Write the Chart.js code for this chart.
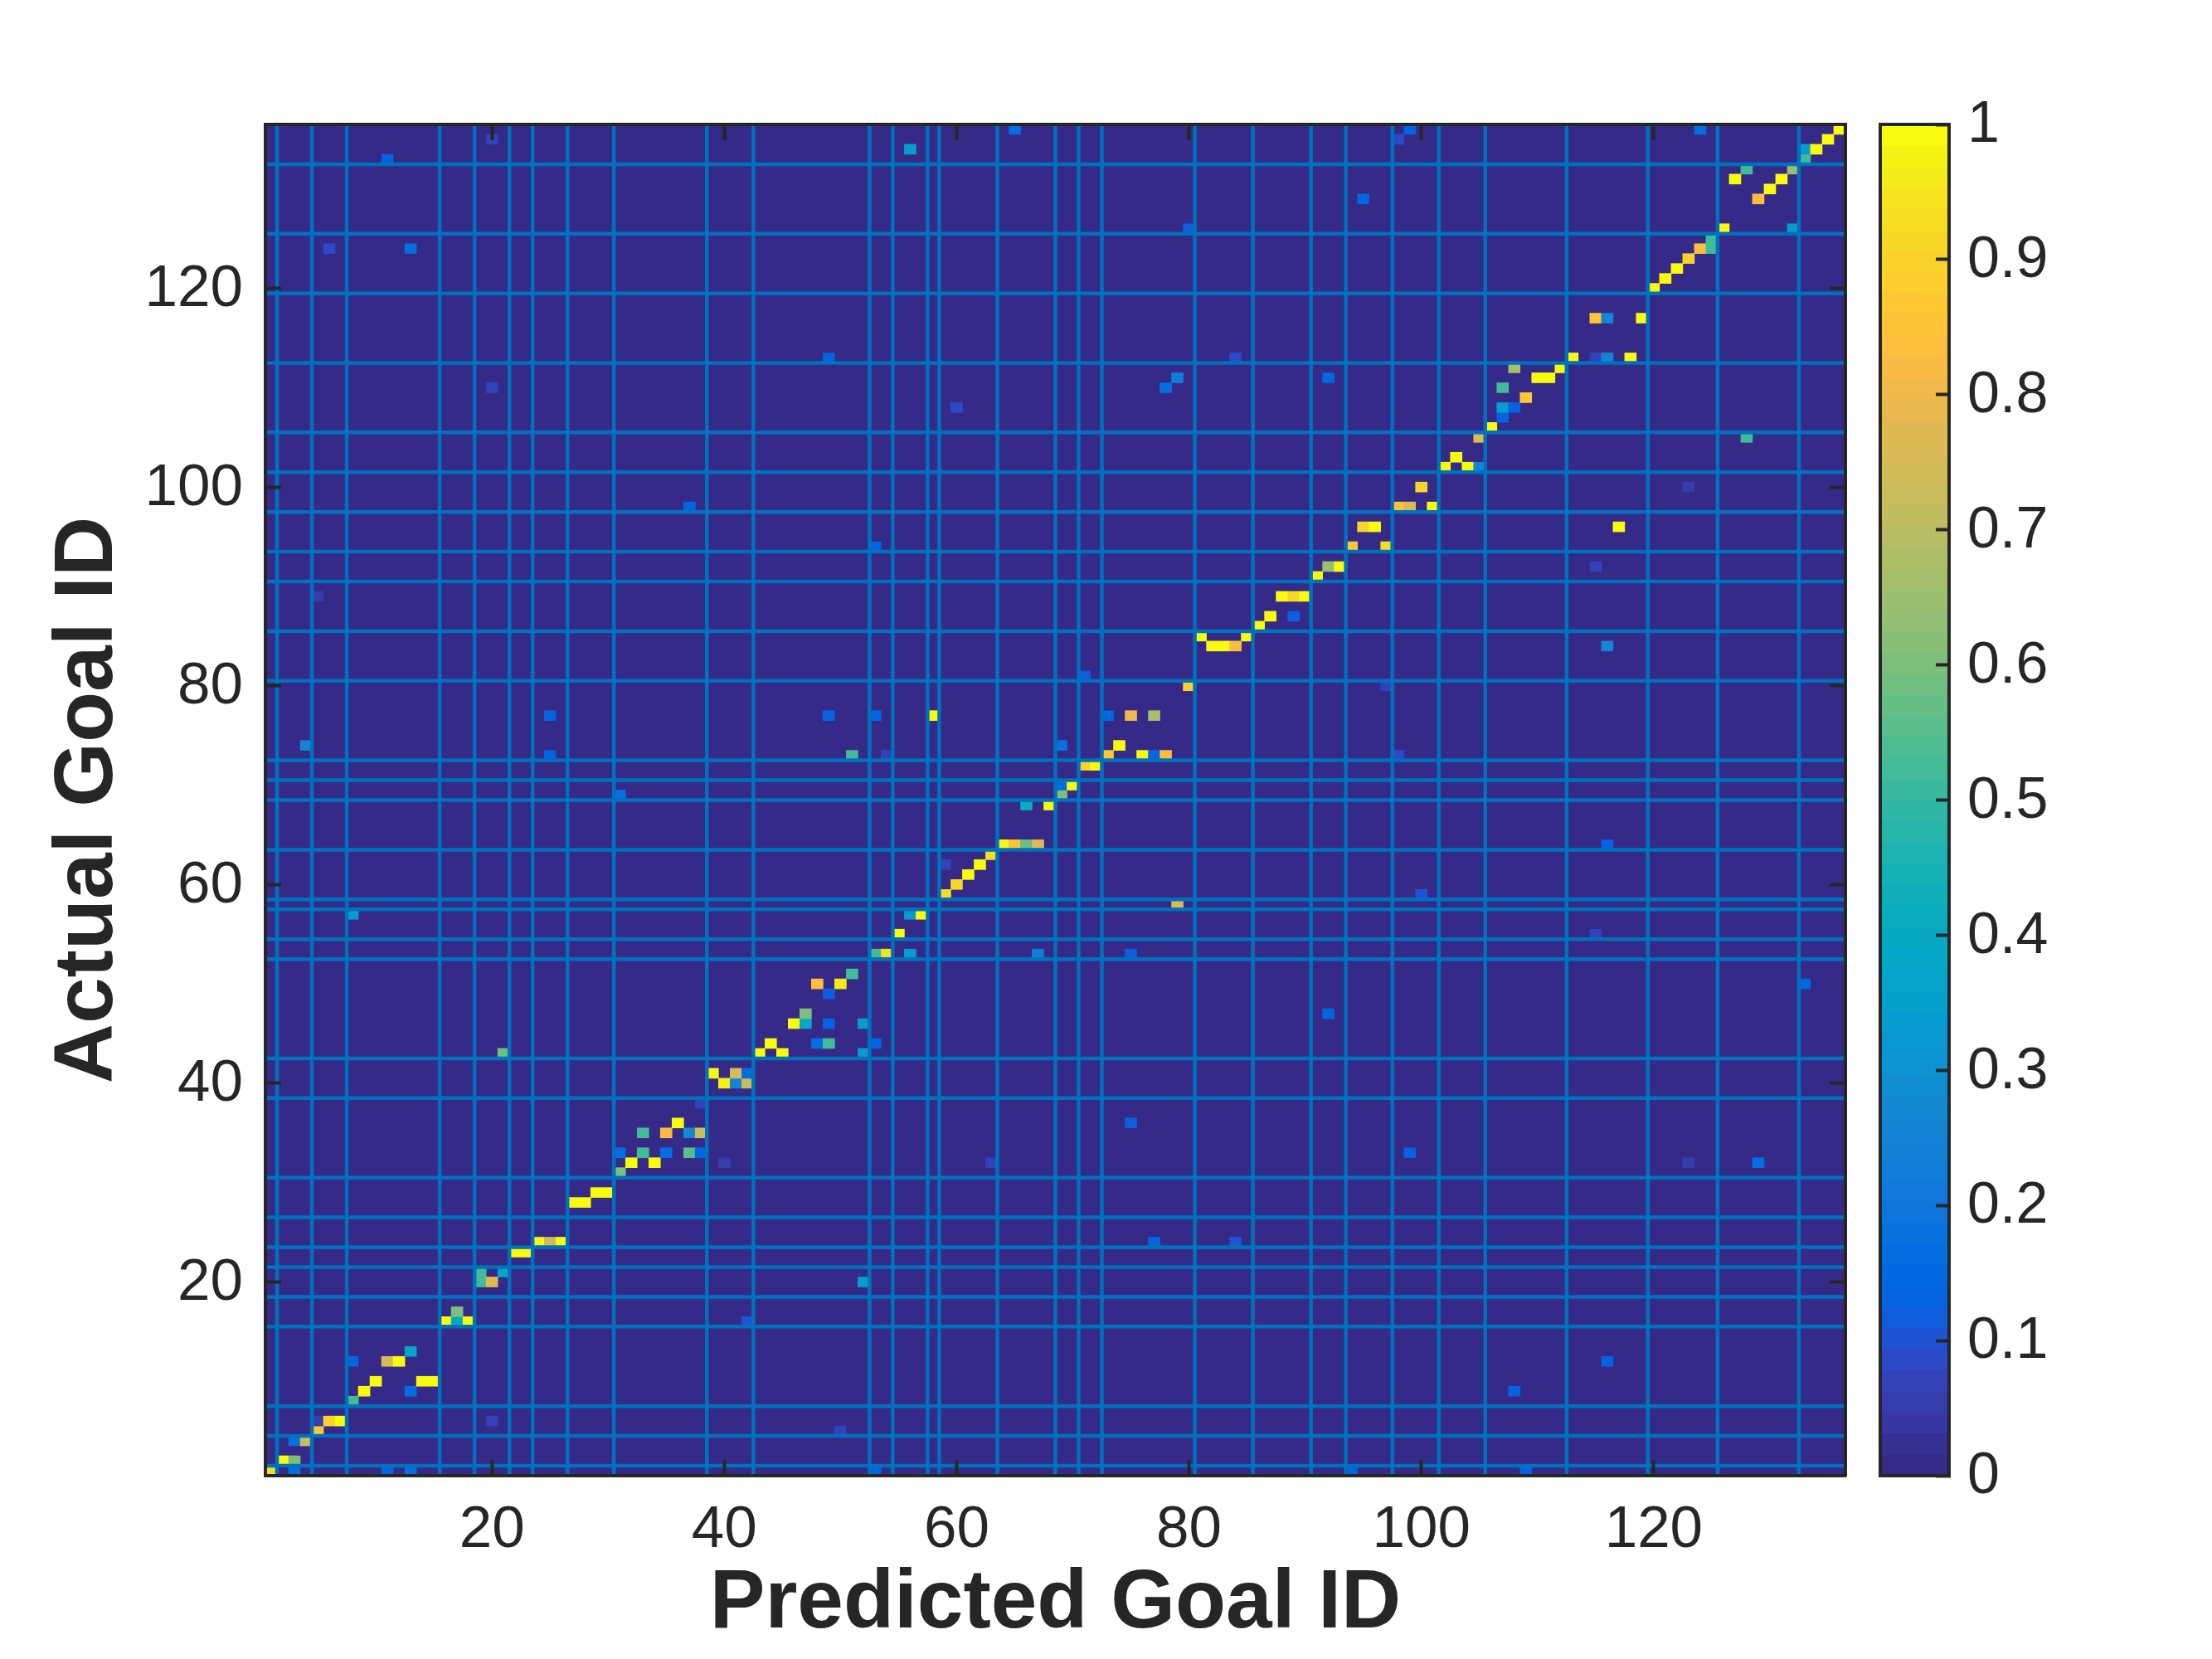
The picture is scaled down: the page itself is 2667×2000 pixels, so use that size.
<!DOCTYPE html>
<html>
<head>
<meta charset="utf-8">
<title>Predicted vs actual goal</title>
<script src="https://cdn.jsdelivr.net/npm/chart.js@4/dist/chart.umd.min.js"></script>
<style>
  html, body { margin: 0; background: #fff; }
  #wrap { position: relative; width: 2667px; height: 2000px; }
  #matrix { position: absolute; left: 0; top: 0; }
  #colorbar { position: absolute; left: 2240px; top: 0; }
</style>
</head>
<body>
<div id="wrap">
  <canvas id="matrix" width="2667" height="2000"></canvas>
  <canvas id="colorbar" width="427" height="2000"></canvas>
</div>
<script>
// goal ids where the blue separators sit (same for both axes)
const goalGroups = [1.5, 4.5, 7.5, 15.5, 18.5, 21.5, 23.5, 26.5, 30.5, 38.5, 42.5, 52.5, 54.5, 57.5, 58.5,
  63.5, 68.5, 70.5, 72.5, 80.5, 85.5, 90.5, 93.5, 97.5, 101.5, 105.5, 112.5, 119.5, 125.5, 132.5];
const goalTicks = [20, 40, 60, 80, 100, 120];
const colorTicks = [0, 0.1, 0.2, 0.3, 0.4, 0.5, 0.6, 0.7, 0.8, 0.9, 1];
const goalMin = 0.5;
const goalMax = 136.5;

// non-zero cells, one entry per actual goal
const actualGoals = [1, 2, 4, 5, 6, 8, 9, 10, 12, 13, 16, 17, 20, 21, 23, 24, 28, 29, 31, 32, 33, 35, 36, 38, 40, 41,
  43, 44, 46, 47, 49, 50, 51, 53, 55, 57, 58, 59, 60, 61, 62, 63, 64, 68, 69, 70, 72, 73, 74, 77, 80, 81, 84, 85,
  86, 87, 89, 91, 92, 94, 96, 98, 100, 102, 103, 105, 106, 107, 108, 109, 110, 111, 112, 113, 117, 120, 121, 122,
  123, 124, 125, 126, 129, 130, 131, 132, 133, 134, 135, 136];
const predictedGoals = [
  [1, 3, 11, 13, 53, 94, 109], [2, 3], [3, 4], [5, 50], [5, 6, 7, 20], [8], [9, 13, 108], [10, 14, 15],
  [8, 11, 12, 116], [13], [16, 17, 18, 42], [17], [19, 20, 52], [19, 21], [22, 23], [24, 25, 26, 77, 84],
  [27, 28], [29, 30], [31], [32, 34, 40, 63, 123, 129], [31, 33, 35, 37, 38, 99], [33, 35, 37, 38], [36, 75],
  [38], [40, 41, 42], [39, 41, 42], [21, 43, 45, 52], [44, 48, 49, 53], [46, 47, 49, 52], [47, 92], [49],
  [48, 50, 133], [51], [53, 54, 56, 67, 75], [55, 115], [8, 56, 57], [79], [59, 100], [60], [61], [59, 62], [63],
  [64, 65, 66, 67, 116], [66, 68], [31, 69], [69, 70], [71, 72], [25, 51, 54, 73, 76, 77, 78, 98], [4, 69, 74],
  [25, 49, 53, 58, 73, 75, 77], [80, 97], [71], [82, 83, 84, 116], [81, 85], [86], [87, 89], [5, 88, 89, 90],
  [91], [92, 93, 115], [53, 94, 97], [95, 96, 117], [37, 98, 99, 101], [100, 123], [102, 104, 105], [103],
  [105, 128], [106], [107], [60, 107, 108], [109], [20, 78, 107], [79, 92, 110, 111], [108, 112],
  [49, 84, 113, 115, 116, 118], [115, 116, 119], [120], [121], [122], [123], [6, 13, 124, 125], [125],
  [80, 126, 132], [95, 129], [130], [127, 131], [128, 132], [11, 133], [56, 133, 134], [20, 98, 135],
  [65, 99, 124, 136]];
const cellValues = [
  [.93, .17, .14, .17, .14, .14, .14], [1, .6], [.18, .72], [.87, .07], [.05, .9, 1, .07], [.52], [1, .17, .14], [1, 1, 1],
  [.14, .76, 1, .14], [.38], [1, .38, 1, .1], [.6], [.52, .78, .33], [.52, .38], [1, 1], [1, .74, 1, .14, .1],
  [1, 1], [1, 1], [.6], [1, 1, .06, .07, .06, .17], [.17, .52, .17, .55, .15, .13], [.52, .82, .27, .72], [1, .12],
  [.07], [.97, .25, .72], [1, .76, .17], [.58, 1, 1, .33], [1, .17, .52, .14], [1, .38, .14, .33], [.6, .14], [.12],
  [.83, .96, .15], [.52], [.52, .95, .33, .22, .12], [1, .07], [.33, .33, 1], [.77], [.93, .1], [.91], [1], [.07, 1], [.93],
  [1, .85, .58, .77, .13], [.42, 1], [.18, .6], [.17, 1], [.9, 1], [.14, .52, .07, .86, 1, .15, .83, .08], [.25, .18, 1],
  [.14, .14, .14, 1, .15, .8, .66], [.88, .07], [.12], [1, 1, .83, .25], [1, 1], [1], [1, .12], [.05, 1, .92, 1],
  [1], [.65, 1, .07], [.13, .87, .93], [.9, 1, 1], [.14, .85, .77, 1], [.9, .06], [1, 1, .25], [1],
  [.77, .52], [1], [.14], [.09, .33, .14], [.87], [.07, .17, .52], [.23, .15, 1, 1], [.67, 1],
  [.14, .09, 1, .07, .25, 1], [.85, .25, 1], [1], [1], [1], [.9], [.09, .17, .83, .52], [.52],
  [.11, 1, .33], [.14, .83], [1], [1, 1], [.52, .65], [.14, .52], [.33, .33, 1], [.07, .08, 1],
  [.17, .14, .17, 1]];

const parula = [
  [.2081, .1663, .5292], [.2116, .1898, .5777], [.2123, .2138, .6270], [.2081, .2386, .6771], [.1959, .2645, .7279],
  [.1707, .2919, .7792], [.1253, .3242, .8303], [.0591, .3598, .8683], [.0117, .3875, .8820], [.0060, .4086, .8828],
  [.0165, .4266, .8786], [.0329, .4430, .8720], [.0498, .4586, .8641], [.0629, .4737, .8554], [.0723, .4887, .8467],
  [.0779, .5040, .8384], [.0793, .5200, .8312], [.0749, .5375, .8263], [.0641, .5570, .8240], [.0488, .5772, .8228],
  [.0343, .5966, .8199], [.0265, .6137, .8135], [.0239, .6287, .8038], [.0231, .6418, .7913], [.0228, .6535, .7768],
  [.0267, .6642, .7607], [.0384, .6743, .7436], [.0590, .6838, .7254], [.0843, .6928, .7062], [.1133, .7015, .6859],
  [.1453, .7098, .6646], [.1801, .7177, .6424], [.2178, .7250, .6193], [.2586, .7317, .5954], [.3022, .7376, .5712],
  [.3482, .7424, .5473], [.3953, .7459, .5244], [.4420, .7481, .5033], [.4871, .7491, .4840], [.5300, .7491, .4661],
  [.5709, .7485, .4494], [.6099, .7473, .4337], [.6473, .7456, .4188], [.6834, .7435, .4044], [.7184, .7411, .3905],
  [.7525, .7384, .3768], [.7858, .7356, .3633], [.8185, .7327, .3498], [.8507, .7299, .3360], [.8824, .7274, .3217],
  [.9139, .7258, .3063], [.9450, .7261, .2886], [.9739, .7314, .2666], [.9938, .7455, .2403], [.9990, .7653, .2164],
  [.9955, .7861, .1967], [.9880, .8066, .1794], [.9789, .8271, .1633], [.9697, .8481, .1475], [.9626, .8705, .1309],
  [.9589, .8949, .1132], [.9598, .9218, .0948], [.9661, .9514, .0755], [.9763, .9831, .0538]];

const ink = '#262626';
const lineBlue = '#0072BD';
const fontFamily = '"Liberation Sans", Arial, sans-serif';
const tickFont = { family: fontFamily, size: 71, lineHeight: 1 };
const barTickFont = { family: fontFamily, size: 70, lineHeight: 1 };
const titleFont = { family: fontFamily, size: 100, weight: 'bold', lineHeight: 1 };

const rgb = c => `rgb(${c.map(k => Math.round(k * 255)).join(',')})`;
const colorOf = v => rgb(parula[Math.min(parula.length - 1, Math.floor(v * parula.length))]);

Chart.defaults.animation = false;
Chart.defaults.plugins.legend.display = false;
Chart.defaults.plugins.tooltip.enabled = false;
Chart.defaults.color = ink;

// cells become floating bars one goal tall
const cells = [];
actualGoals.forEach((actual, r) => {
  predictedGoals[r].forEach((predicted, k) => {
    cells.push({ x: predicted, y: [actual - 0.5, actual + 0.5], v: cellValues[r][k] });
  });
});

// separators, one line per group edge, broken by gaps
const separators = [];
goalGroups.forEach(g => {
  separators.push({ x: g, y: goalMin }, { x: g, y: goalMax }, { x: NaN, y: NaN });
  separators.push({ x: goalMin, y: g }, { x: goalMax, y: g }, { x: NaN, y: NaN });
});

const setTicks = values => scale => { scale.ticks = values.map(value => ({ value })); };
const frame = (tickPad, showLabels, labelOffset) => ({
  min: goalMin,
  max: goalMax,
  type: 'linear',
  offset: false,
  afterBuildTicks: setTicks(goalTicks),
  border: { display: true, width: 4, color: ink, z: 2 },
  grid: { display: true, offset: false, drawOnChartArea: false, drawTicks: true, tickLength: -19, tickWidth: 4, tickColor: ink, z: 2 },
  ticks: { display: showLabels, padding: tickPad, labelOffset, autoSkip: false, maxRotation: 0, font: tickFont, color: ink, callback: v => String(v) }
});

const fillArea = {
  id: 'fillArea',
  beforeDatasetsDraw(chart) {
    const { ctx, chartArea: a } = chart;
    ctx.save();
    ctx.fillStyle = rgb(parula[0]);
    ctx.fillRect(a.left, a.top, a.right - a.left, a.bottom - a.top);
    ctx.restore();
  }
};

new Chart('matrix', {
  type: 'bar',
  plugins: [fillArea],
  data: {
    datasets: [
      {
        type: 'line',
        data: separators,
        order: 0,
        borderColor: lineBlue,
        borderWidth: 4.5,
        pointRadius: 0,
        spanGaps: false,
        tension: 0,
        borderCapStyle: 'butt'
      },
      {
        type: 'bar',
        data: cells,
        order: 1,
        grouped: false,
        barThickness: 14,
        borderWidth: 0,
        backgroundColor: cells.map(c => colorOf(c.v))
      }
    ]
  },
  options: {
    responsive: false,
    devicePixelRatio: 1,
    layout: { padding: { left: 0, right: 442, top: 150, bottom: 0 } },
    scales: {
      x: Object.assign(frame(50, true, 0), {
        position: 'bottom',
        afterFit: s => { s.height = 221; },
        title: { display: true, text: 'Predicted Goal ID', color: ink, font: titleFont, padding: { top: 0, bottom: 16 } }
      }),
      y: Object.assign(frame(46, true, 2), {
        position: 'left',
        afterFit: s => { s.width = 320; },
        title: { display: true, text: 'Actual Goal ID', color: ink, font: titleFont, padding: { top: 57, bottom: 0 } }
      }),
      x2: Object.assign(frame(0, false, 0), { axis: 'x', position: 'top', afterFit: s => { s.height = 0; } }),
      y2: Object.assign(frame(0, false, 0), { axis: 'y', position: 'right', afterFit: s => { s.width = 0; } })
    }
  }
});

// colorbar: each level runs up to the top and is painted over by the next one, so no seams
const levels = parula.map((c, i) => ({ x: 0.5, y: [i / parula.length, 1] }));
const plainEdge = extra => Object.assign({
  type: 'linear',
  min: 0,
  max: 1,
  offset: false,
  border: { display: true, width: 4, color: ink, z: 2 },
  grid: { display: false, offset: false },
  ticks: { display: false }
}, extra);

new Chart('colorbar', {
  type: 'bar',
  data: {
    datasets: [{
      data: levels,
      grouped: false,
      barThickness: 84,
      borderWidth: 0,
      backgroundColor: parula.map(rgb)
    }]
  },
  options: {
    responsive: false,
    devicePixelRatio: 1,
    layout: { padding: { left: 27, right: 0, top: 150, bottom: 221 } },
    scales: {
      x: plainEdge({ position: 'bottom', afterFit: s => { s.height = 0; } }),
      x2: plainEdge({ axis: 'x', position: 'top', afterFit: s => { s.height = 0; } }),
      yLeft: plainEdge({ axis: 'y', position: 'left', afterFit: s => { s.width = 0; } }),
      y: {
        type: 'linear',
        position: 'right',
        min: 0,
        max: 1,
        afterBuildTicks: setTicks(colorTicks),
        afterFit: s => { s.width = 317; },
        border: { display: true, width: 4, color: ink, z: 2 },
        grid: { display: true, drawOnChartArea: false, drawTicks: true, tickLength: -16, tickWidth: 4, tickColor: ink, z: 2 },
        ticks: { padding: 38, labelOffset: 2, autoSkip: false, maxRotation: 0, font: barTickFont, color: ink, callback: v => String(v) }
      }
    }
  }
});
</script>
</body>
</html>
